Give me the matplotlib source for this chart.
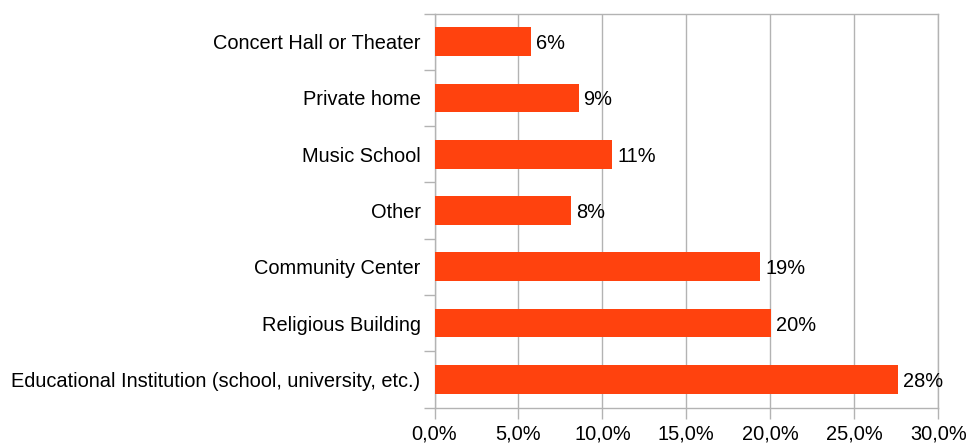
import matplotlib.pyplot as plt
import numpy as np

categories = ['Concert Hall or Theater', 'Private home', 'Music School', 'Other',
              'Community Center', 'Religious Building',
              'Educational Institution (school, university, etc.)']
values = [5.75, 8.58, 10.6, 8.13, 19.4, 20.05, 27.6]
labels = ['6%', '9%', '11%', '8%', '19%', '20%', '28%']
xticks = [0, 5, 10, 15, 20, 25, 30]

plt.rcParams['font.family'] = 'Liberation Sans'
fs = 14.4

fig = plt.figure(figsize=(9.66, 4.43), dpi=100)
ax = fig.add_axes([0.4498, 0.0801, 0.5214, 0.8894])

y = np.arange(len(categories))
ax.barh(y, values, height=0.51, color='#FF420E', zorder=3)
for yi, v, lab in zip(y, values, labels):
    ax.text(v + 0.3, yi, lab, va='center_baseline', ha='left', fontsize=fs, color='black')

ax.set_xlim(0, 30)
ax.set_ylim(len(categories) - 0.5, -0.5)
ax.set_xticks(xticks)
ax.set_xticklabels([f'{t:.1f}%'.replace('.', ',') for t in xticks], fontsize=fs)
ax.set_yticks(y)
ax.set_yticklabels(categories, fontsize=fs)
ax.tick_params(axis='y', length=0, pad=10)
ax.set_yticks(np.arange(len(categories) + 1) - 0.5, minor=True)
ax.tick_params(axis='y', which='minor', length=8, color='#b3b3b3', width=1)
ax.tick_params(axis='x', length=8, color='#b3b3b3', width=1, pad=4)
ax.grid(axis='x', color='#b3b3b3', linewidth=1, zorder=0)
for s in ax.spines.values():
    s.set_color('#b3b3b3')
    s.set_linewidth(1)

fig.savefig('out.png', dpi=100)
